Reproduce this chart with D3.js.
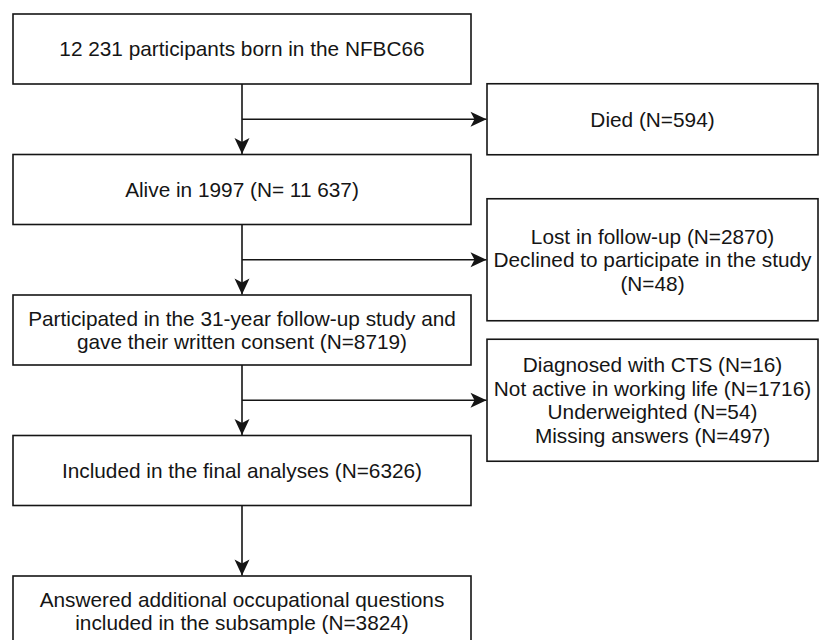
<!DOCTYPE html>
<html>
<head>
<meta charset="utf-8">
<script src="https://cdn.jsdelivr.net/npm/d3@7"></script>
<style>
  html, body { margin: 0; padding: 0; background: #fff; }
  svg { display: block; }
</style>
</head>
<body>
<div id="chart"></div>
<script>
// Flow of the cohort, top to bottom.
const mainSteps = [
    ['12 231 participants born in the NFBC66'],
    ['Alive in 1997 (N= 11 637)'],
    ['Participated in the 31-year follow-up study and', 'gave their written consent (N=8719)'],
    ['Included in the final analyses (N=6326)'],
    ['Answered additional occupational questions', 'included in the subsample (N=3824)']
];
// Exclusions branching off between step i and step i+1.
const exclusions = [
    ['Died (N=594)'],
    ['Lost in follow-up (N=2870)', 'Declined to participate in the study', '(N=48)'],
    ['Diagnosed with CTS (N=16)', 'Not active in working life (N=1716)', 'Underweighted (N=54)', 'Missing answers (N=497)']
];
const exclusionAfter = [0, 1, 2];

const width = 819;
const height = 640;
const stroke = '#151515';
const fontSize = 20.8;
const lineHeight = 23.5;

const layout = {
    mainLeft: 13, mainRight: 471, boxHeight: 70,
    sideLeft: 487, sideRight: 818,
    sideHeights: [71, 122, 122]
};

const svg = d3.select('#chart')
    .append('svg')
        .attr('width', width)
        .attr('height', height)
        .attr('viewBox', `0 0 ${width} ${height}`);

// Row positions for the main boxes.
const y = d3.scaleLinear()
    .domain([0, mainSteps.length - 1])
    .range([14, 576]);
const midX = 242;

// Arrow head marker.
svg.append('defs')
    .append('marker')
        .attr('id', 'arrow')
        .attr('viewBox', '-17 -9 18 18')
        .attr('refX', 0)
        .attr('refY', 0)
        .attr('markerWidth', 18)
        .attr('markerHeight', 18)
        .attr('markerUnits', 'userSpaceOnUse')
        .attr('orient', 'auto')
    .append('path')
        .attr('d', 'M0,0 L-16,-7.5 L-12,0 L-16,7.5 Z')
        .attr('fill', stroke);

function addText(g, lines, cx, cy) {
    const t = g.append('text')
        .attr('text-anchor', 'middle')
        .attr('font-family', '"Liberation Sans", Arial, Helvetica, sans-serif')
        .attr('font-size', fontSize)
        .attr('fill', '#151515');
    const offset = (lines.length - 1) / 2;
    lines.forEach((line, i) => {
        t.append('tspan')
            .attr('x', cx)
            .attr('y', cy + (i - offset) * lineHeight)
            .attr('dy', '0.35em')
            .text(line);
    });
}

// Vertical connectors between main boxes.
const links = svg.append('g');
d3.range(mainSteps.length - 1).forEach(i => {
    links.append('line')
        .attr('x1', midX)
        .attr('x2', midX)
        .attr('y1', y(i) + layout.boxHeight)
        .attr('y2', y(i + 1) - 0.5)
        .attr('stroke', stroke)
        .attr('stroke-width', 1.6)
        .attr('marker-end', 'url(#arrow)');
});

// Side branches and exclusion boxes.
exclusions.forEach((lines, j) => {
    const i = exclusionAfter[j];
    const by = (y(i) + layout.boxHeight + y(i + 1)) / 2;
    links.append('line')
        .attr('x1', midX)
        .attr('x2', layout.sideLeft - 0.5)
        .attr('y1', by)
        .attr('y2', by)
        .attr('stroke', stroke)
        .attr('stroke-width', 1.6)
        .attr('marker-end', 'url(#arrow)');

    const h = layout.sideHeights[j];
    const g = svg.append('g');
    g.append('rect')
        .attr('x', layout.sideLeft)
        .attr('y', by - h / 2)
        .attr('width', layout.sideRight - layout.sideLeft)
        .attr('height', h)
        .attr('fill', '#fff')
        .attr('stroke', stroke)
        .attr('stroke-width', 1.6);
    addText(g, lines, (layout.sideLeft + layout.sideRight) / 2, by);
});

// Main boxes.
mainSteps.forEach((lines, i) => {
    const g = svg.append('g');
    g.append('rect')
        .attr('x', layout.mainLeft)
        .attr('y', y(i))
        .attr('width', layout.mainRight - layout.mainLeft)
        .attr('height', layout.boxHeight)
        .attr('fill', '#fff')
        .attr('stroke', stroke)
        .attr('stroke-width', 1.6);
    addText(g, lines, (layout.mainLeft + layout.mainRight) / 2, y(i) + layout.boxHeight / 2);
});
</script>
</body>
</html>
